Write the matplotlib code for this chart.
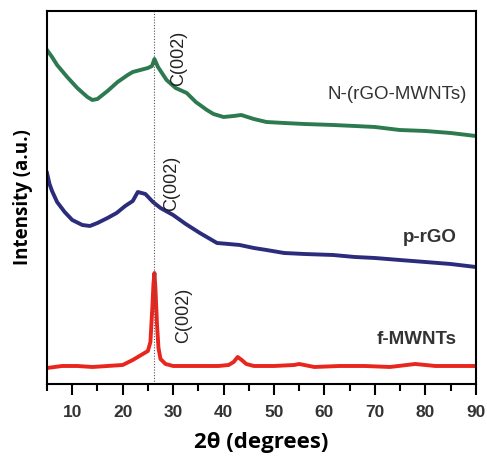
import matplotlib
matplotlib.use("Agg")
import matplotlib.pyplot as plt
from matplotlib.ticker import MultipleLocator

# XRD patterns (intensity in arbitrary units)
x_green = [5, 6, 7, 9, 11, 13, 14, 15, 17, 19, 21, 22, 23.5, 25, 25.8, 26.3, 27, 28.7, 30.5, 32.7,
           34.5, 36.7, 38, 40, 42, 43.5, 46, 48.5, 52, 56, 61.7, 66, 70, 74.9, 80, 85, 90]
y_green = [334, 327, 319, 307, 296, 287, 284, 285, 293, 302, 309, 312, 314, 316, 318, 325, 317, 304,
           296, 291, 282, 274, 270, 267, 268, 269, 265, 262, 261, 260, 259, 258, 257, 254, 253, 251, 248]

x_blue = [5, 5.5, 6, 7, 8.5, 10, 12, 13.5, 15, 17, 18.8, 20.5, 22, 23, 24.5, 26, 27.5, 30, 32.5,
          35.3, 38.7, 41, 43.2, 46, 48.5, 52, 56, 61.7, 66, 70, 74.9, 80, 85, 90]
y_blue = [211, 200, 193, 182, 172, 164, 159, 158, 161, 166, 171, 178, 183, 192, 190, 182, 176, 169,
          160, 151, 141, 140, 139, 136, 134, 131, 130, 129, 127, 126, 124, 122, 120, 117]

x_red = [5, 8, 11, 14, 17, 20, 22, 23, 24, 25, 25.5, 25.9, 26.1, 26.3, 26.5, 26.8, 27.1, 27.5,
         28.5, 30, 33, 36, 39, 41, 42, 42.8, 43.6, 44.5, 46, 50, 54, 55, 58, 63, 68, 73, 78, 82, 86, 90]
y_red = [16, 18, 18, 17, 18, 19, 24, 27, 30, 33, 42, 78, 100, 111, 95, 60, 36, 25,
         20, 18, 18, 18, 18, 19, 22, 27, 24, 20, 18, 18, 19, 20, 17, 18, 18, 17, 20, 18, 18, 18]

curves = [
    (x_green, y_green, "#2e7a50"),
    (x_blue, y_blue, "#2c2c7c"),
    (x_red, y_red, "#e8261e"),
]

fig = plt.figure(figsize=(4.87, 4.58), dpi=100)
ax = fig.add_axes([0.0965, 0.1616, 0.8805, 0.8144])

for xs, ys, col in curves:
    ax.plot(xs, ys, color=col, lw=2.8, solid_joinstyle="round")

ax.axvline(26.3, color="#555555", lw=0.8, ls=(0, (1, 1.5)))

ax.set_xlim(5, 90)
ax.set_ylim(0, 373)

ax.xaxis.set_minor_locator(MultipleLocator(5))
ax.set_xticks(range(10, 91, 10))
ax.tick_params(axis="x", which="major", direction="out", length=8, width=1.5, pad=7)
ax.tick_params(axis="x", which="minor", direction="out", length=5, width=1.5)
ax.set_yticks([])
for lab in ax.get_xticklabels():
    lab.set_fontfamily("Liberation Sans")
    lab.set_fontweight("bold")
    lab.set_fontsize(12.5)
    lab.set_color("#333333")

for sp in ax.spines.values():
    sp.set_linewidth(1.5)

ax.set_xlabel("2θ (degrees)", fontfamily="Open Sans", fontweight="bold", fontsize=16, labelpad=9)
ax.set_ylabel("Intensity (a.u.)", fontfamily="Open Sans", fontweight="bold", fontsize=13.5, labelpad=10)

ax.text(88.2, 289, "N-(rGO-MWNTs)", ha="right", va="center", fontfamily="Liberation Sans",
        fontsize=13.5, color="#333333")
ax.text(86.2, 146, "p-rGO", ha="right", va="center", fontfamily="Liberation Sans",
        fontweight="bold", fontsize=13.5, color="#333333")
ax.text(86.2, 44, "f-MWNTs", ha="right", va="center", fontfamily="Liberation Sans",
        fontweight="bold", fontsize=13.5, color="#333333")

for xt, yt in [(31.0, 326), (29.8, 201), (32.1, 69)]:
    ax.text(xt, yt, "C(002)", rotation=90, ha="center", va="center",
            fontfamily="Liberation Sans", fontsize=13, color="#222222")

fig.savefig("out.png", dpi=100)
